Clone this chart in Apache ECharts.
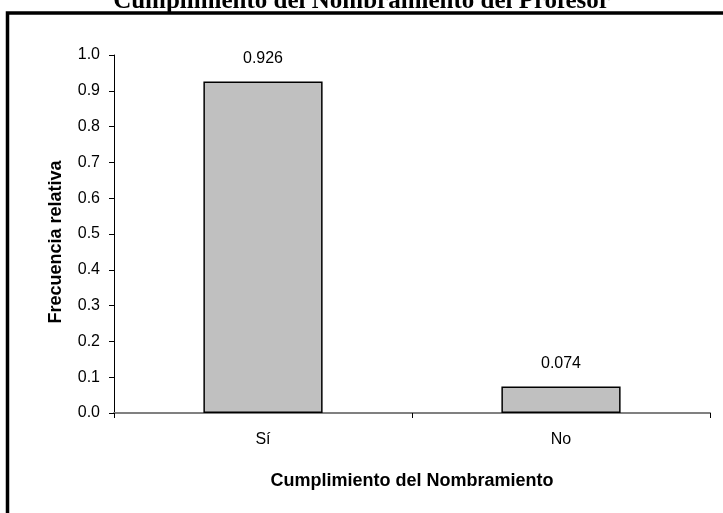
<!DOCTYPE html>
<html><head><meta charset="utf-8">
<script src="https://cdn.jsdelivr.net/npm/echarts@6/dist/echarts.min.js"></script>
<style>html,body{margin:0;padding:0;background:#fff}#c{width:723px;height:513px}</style>
</head><body><div id="c"></div>
<script>
var categories = ['Sí', 'No'];
var values = [0.926, 0.074];
var yTicks = [0.0, 0.1, 0.2, 0.3, 0.4, 0.5, 0.6, 0.7, 0.8, 0.9, 1.0];

var chart = echarts.init(document.getElementById('c'));
chart.setOption({
  animation: false,
  backgroundColor: '#fff',
  title: {
    text: 'Cumplimiento del Nombramiento del Profesor',
    left: 'center', top: -16,
    textStyle: {fontFamily: 'Liberation Serif', fontWeight: 'bold', fontSize: 25, color: '#000'}
  },
  graphic: [{
    type: 'rect', shape: {x: 7.5, y: 13, width: 800, height: 600},
    style: {fill: 'none', stroke: '#000', lineWidth: 3.5}, z: 0
  }],
  grid: {left: 114, right: 13, top: 55, bottom: 100},
  xAxis: {
    type: 'category', data: categories,
    name: 'Cumplimiento del Nombramiento', nameLocation: 'middle', nameGap: 59,
    nameTextStyle: {fontFamily: 'Liberation Sans', fontWeight: 'bold', fontSize: 18, color: '#000'},
    axisLine: {lineStyle: {color: '#808080', width: 2}},
    axisTick: {show: true, length: 5, lineStyle: {color: '#000'}},
    axisLabel: {fontFamily: 'Liberation Sans', fontSize: 16, color: '#000', margin: 19}
  },
  yAxis: {
    type: 'value', min: 0, max: 1, interval: 0.1,
    name: 'Frecuencia relativa', nameLocation: 'middle', nameGap: 49, nameRotate: 90,
    nameTextStyle: {fontFamily: 'Liberation Sans', fontWeight: 'bold', fontSize: 18, color: '#000', padding: [0, 16, 0, 0]},
    axisLine: {show: true, lineStyle: {color: '#000', width: 1}},
    axisTick: {show: true, length: 5, lineStyle: {color: '#000'}},
    splitLine: {show: false},
    axisLabel: {fontFamily: 'Liberation Sans', fontSize: 16, color: '#000', margin: 14,
      formatter: function (v) { return v.toFixed(1); }}
  },
  series: [{
    type: 'bar', data: values, barWidth: '40%',
    itemStyle: {color: '#c0c0c0', borderColor: '#000', borderWidth: 1.5},
    label: {show: true, position: 'top', distance: 15, fontFamily: 'Liberation Sans', fontSize: 16, color: '#000',
      formatter: function (p) { return p.value.toFixed(3); }}
  }]
});
</script></body></html>
